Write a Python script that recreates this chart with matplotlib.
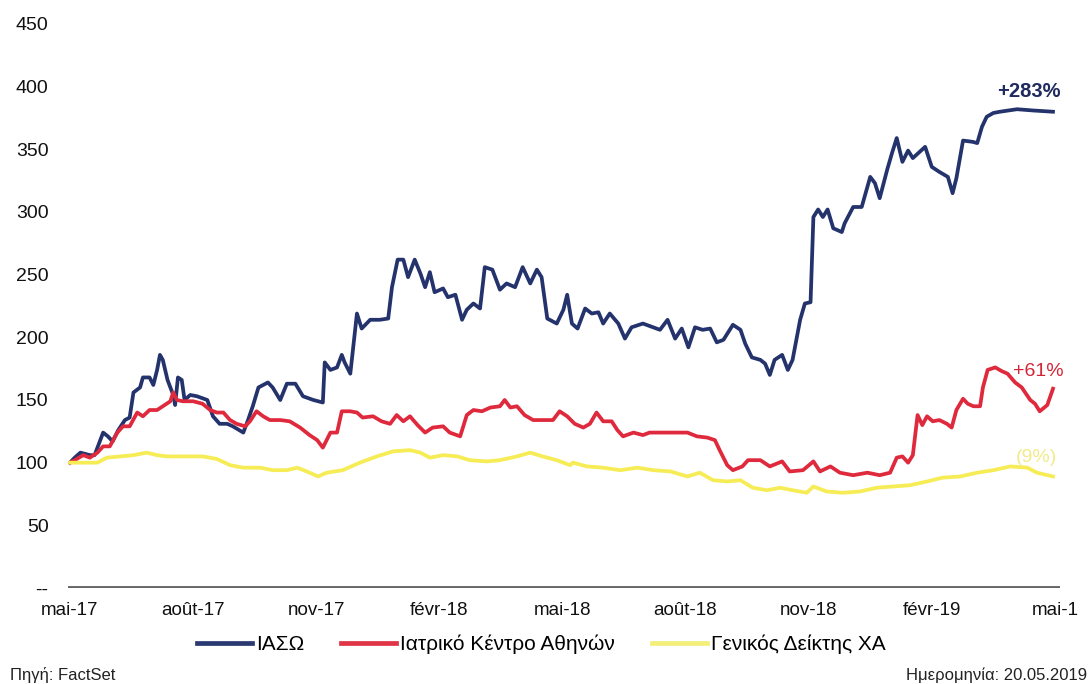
import matplotlib
matplotlib.use("Agg")
import matplotlib.pyplot as plt
from matplotlib import font_manager
from matplotlib.lines import Line2D

# x positions are weeks since the start of the series (mai-17 -> mai-19)
iaso_wk = [0, 0.5, 1.1, 2.1, 2.6, 3.5, 4.0, 4.5, 5.1, 5.8,
           6.3, 6.7, 7.4, 7.7, 8.4, 8.8, 9.2, 9.5, 9.8, 10.3,
           10.9, 11.1, 11.4, 11.8, 12.1, 12.7, 13.4, 14.5, 15.1, 15.8,
           16.6, 17.2, 18.3, 18.8, 19.3, 19.9, 20.9, 21.4, 22.2, 22.9,
           23.8, 24.6, 25.7, 26.7, 26.9, 27.5, 28.2, 28.7, 29.0, 29.6,
           30.3, 30.8, 31.7, 32.7, 33.6, 34.0, 34.6, 35.2, 35.7, 36.4,
           37.0, 37.5, 38.0, 38.5, 39.4, 39.9, 40.7, 41.4, 41.9, 42.6,
           43.3, 43.8, 44.6, 45.4, 46.1, 47.0, 47.8, 48.6, 49.3, 49.8,
           50.4, 51.4, 52.1, 52.5, 53.0, 53.6, 54.4, 55.1, 55.8, 56.3,
           57.0, 57.9, 58.6, 59.3, 60.5, 61.6, 62.3, 63.1, 63.9, 64.6,
           65.3, 66.0, 66.8, 67.6, 68.3, 69.0, 70.0, 70.8, 71.3, 72.0,
           72.9, 73.4, 73.9, 74.4, 75.2, 75.8, 76.3, 77.1, 77.6, 78.2,
           78.5, 79.0, 79.5, 80.0, 80.6, 81.5, 81.8, 82.7, 83.6, 84.5,
           85.0, 85.5, 86.3, 86.8, 87.3, 87.9, 88.5, 89.0, 90.3, 91.0,
           91.8, 92.7, 93.2, 93.6, 94.3, 95.3, 95.8, 96.3, 96.8, 97.5,
           98.2, 100.0, 101.7, 103.8]
iaso_val = [100, 104, 108, 106, 106, 124, 121, 117, 126, 134,
            136, 156, 160, 168, 168, 162, 174, 186, 182, 166,
            154, 146, 168, 166, 150, 154, 153, 150, 137, 131,
            131, 129, 124, 134, 145, 160, 164, 160, 150, 163,
            163, 153, 150, 148, 180, 174, 176, 186, 180, 171,
            219, 207, 214, 214, 215, 240, 262, 262, 248, 262,
            251, 240, 252, 236, 239, 232, 234, 214, 222, 227,
            223, 256, 254, 238, 243, 240, 256, 243, 254, 248,
            215, 211, 222, 234, 211, 207, 223, 219, 220, 211,
            219, 211, 199, 208, 211, 208, 206, 214, 199, 207,
            192, 208, 206, 207, 196, 198, 210, 206, 195, 184,
            182, 179, 170, 182, 186, 174, 182, 214, 227, 228,
            296, 302, 296, 302, 287, 284, 291, 304, 304, 328,
            323, 311, 334, 347, 359, 340, 349, 343, 352, 336,
            332, 328, 315, 327, 357, 356, 355, 368, 376, 379,
            380, 382, 381, 380]

ika_wk = [0, 0.5, 1.4, 2.1, 2.9, 3.5, 4.2, 5.0, 5.6, 6.3,
          7.1, 7.7, 8.4, 9.2, 9.8, 10.6, 10.9, 11.3, 11.9, 13.0,
          14.0, 14.8, 15.5, 16.2, 16.9, 17.6, 18.5, 19.0, 19.7, 20.4,
          21.1, 22.2, 23.2, 24.3, 25.3, 26.1, 26.7, 27.5, 28.2, 28.7,
          29.6, 30.3, 30.9, 32.0, 32.9, 33.8, 34.5, 35.2, 35.9, 36.7,
          37.5, 38.3, 39.4, 40.1, 41.2, 41.9, 42.6, 43.5, 44.4, 45.4,
          45.9, 46.5, 47.2, 48.0, 48.9, 49.9, 51.0, 51.7, 52.5, 53.3,
          54.2, 54.9, 55.6, 56.3, 57.2, 57.8, 58.4, 59.5, 60.5, 61.2,
          62.3, 63.7, 65.2, 66.2, 67.3, 68.1, 68.6, 69.4, 70.0, 71.0,
          71.6, 72.9, 73.9, 75.2, 76.0, 77.4, 78.5, 79.2, 80.3, 81.3,
          82.7, 84.2, 85.5, 86.6, 87.3, 87.9, 88.5, 89.0, 89.5, 90.0,
          90.5, 91.1, 91.8, 92.6, 93.1, 93.6, 94.3, 94.8, 95.4, 96.1,
          96.4, 96.9, 97.7, 98.4, 99.0, 99.8, 100.5, 101.4, 101.9, 102.4,
          103.2, 103.8]
ika_val = [100, 102, 106, 104, 108, 113, 113, 124, 129, 129,
           140, 137, 142, 142, 145, 149, 156, 150, 149, 149,
           147, 142, 140, 140, 134, 131, 129, 133, 141, 137,
           134, 134, 133, 128, 122, 118, 112, 124, 124, 141,
           141, 140, 136, 137, 133, 131, 138, 133, 137, 130,
           124, 128, 129, 124, 121, 138, 142, 141, 144, 145,
           150, 144, 145, 138, 134, 134, 134, 141, 137, 131,
           128, 131, 140, 133, 133, 126, 121, 124, 122, 124,
           124, 124, 124, 121, 120, 118, 110, 98, 94, 97,
           102, 102, 97, 101, 93, 94, 101, 93, 97, 92,
           90, 92, 90, 92, 104, 105, 100, 106, 138, 130,
           137, 133, 134, 131, 128, 142, 151, 147, 145, 145,
           160, 174, 176, 173, 171, 164, 160, 150, 147, 141,
           146, 159]

gd_wk = [0, 0.2, 1.8, 2.9, 3.9, 5.3, 6.7, 8.1, 9.2, 10.2,
         11.6, 13.0, 14.0, 15.5, 16.9, 18.3, 20.1, 21.4, 22.9, 24.0,
         25.0, 26.2, 27.1, 28.8, 30.6, 32.4, 34.1, 35.9, 37.0, 38.0,
         39.4, 40.9, 42.2, 44.0, 45.4, 47.2, 48.6, 49.9, 51.4, 52.8,
         53.1, 54.6, 56.3, 58.1, 59.9, 61.6, 63.4, 65.2, 66.5, 67.9,
         69.4, 70.8, 72.1, 73.6, 75.0, 76.3, 77.8, 78.5, 79.9, 81.6,
         83.4, 85.2, 86.9, 88.7, 90.5, 92.1, 94.0, 95.8, 97.5, 99.3,
         101.1, 102.1, 103.8]
gd_val = [100, 100, 100, 100, 104, 105, 106, 108, 106, 105,
          105, 105, 105, 103, 98, 96, 96, 94, 94, 96,
          93, 89, 92, 94, 100, 105, 109, 110, 108, 104,
          106, 105, 102, 101, 102, 105, 108, 105, 102, 98,
          100, 97, 96, 94, 96, 94, 93, 89, 92, 86,
          85, 86, 80, 78, 80, 78, 76, 81, 77, 76,
          77, 80, 81, 82, 85, 88, 89, 92, 94, 97,
          96, 92, 89]

tick_wk = [0, 13, 26, 39, 52, 65, 78, 91, 104]
tick_lbl = ['mai-17', 'août-17', 'nov-17', 'févr-18', 'mai-18',
            'août-18', 'nov-18', 'févr-19', 'mai-1']
series_names = ['ΙΑΣΩ', 'Ιατρικό Κέντρο Αθηνών', 'Γενικός Δείκτης ΧΑ']

c_blue = '#25336d'
c_red = '#df2a3d'
c_yel = '#f6ec55'

names = {f.name for f in font_manager.fontManager.ttflist}
main_font = 'Liberation Sans' if 'Liberation Sans' in names else 'DejaVu Sans'
narrow_font = 'Liberation Sans Narrow' if 'Liberation Sans Narrow' in names else main_font
plt.rcParams['font.family'] = [main_font, 'DejaVu Sans']

fig = plt.figure(figsize=(10.89, 6.84), dpi=100)
ax = fig.add_axes([68 / 1089, 96 / 684, 992 / 1089, 564 / 684])

ax.plot(iaso_wk, iaso_val, color=c_blue, lw=2.7, solid_joinstyle='round')
ax.plot(ika_wk, ika_val, color=c_red, lw=2.7, solid_joinstyle='round')
ax.plot(gd_wk, gd_val, color=c_yel, lw=2.7, solid_joinstyle='round')
ax.axhline(0, color='#666666', lw=2.8)

ax.set_xlim(-0.21, 104.54)
ax.set_ylim(0, 450)
ax.set_yticks(range(0, 451, 50))
ax.set_yticklabels(['--'] + [str(v) for v in range(50, 451, 50)], fontsize=14)
ax.set_xticks(tick_wk)
ax.set_xticklabels(tick_lbl, fontsize=13.5)
ax.tick_params(axis='y', length=0, pad=14, colors='#111111')
ax.tick_params(axis='x', length=0, pad=10, colors='#111111')
for s in ax.spines.values():
    s.set_visible(False)

ax.text(101.3, 396, '+283%', color='#1f2a5e', fontsize=14.5, fontweight='bold',
        ha='center', va='center')
ax.text(102.2, 173, '+61%', color='#d42537', fontsize=14, ha='center', va='center')
ax.text(102.0, 104.5, '(9%)', color='#f1eb8a', fontsize=14, ha='center', va='center')

handles = [Line2D([], [], color=c, lw=3.4) for c in ('#2a3a70', '#e03447', '#f3ef7a')]
fig.legend(handles, series_names, loc='center', bbox_to_anchor=(0.497, 0.058),
           ncol=3, frameon=False, fontsize=15, handlelength=2.65,
           handletextpad=0.2, columnspacing=1.75)

fig.text(0.009, 0.013, 'Πηγή: FactSet', fontsize=12, family=[narrow_font, 'DejaVu Sans'],
         ha='left', va='center', color='#222222')
fig.text(0.998, 0.013, 'Ημερομηνία: 20.05.2019', fontsize=12,
         family=[narrow_font, 'DejaVu Sans'], ha='right', va='center', color='#222222')

fig.savefig('out.png', dpi=100)
